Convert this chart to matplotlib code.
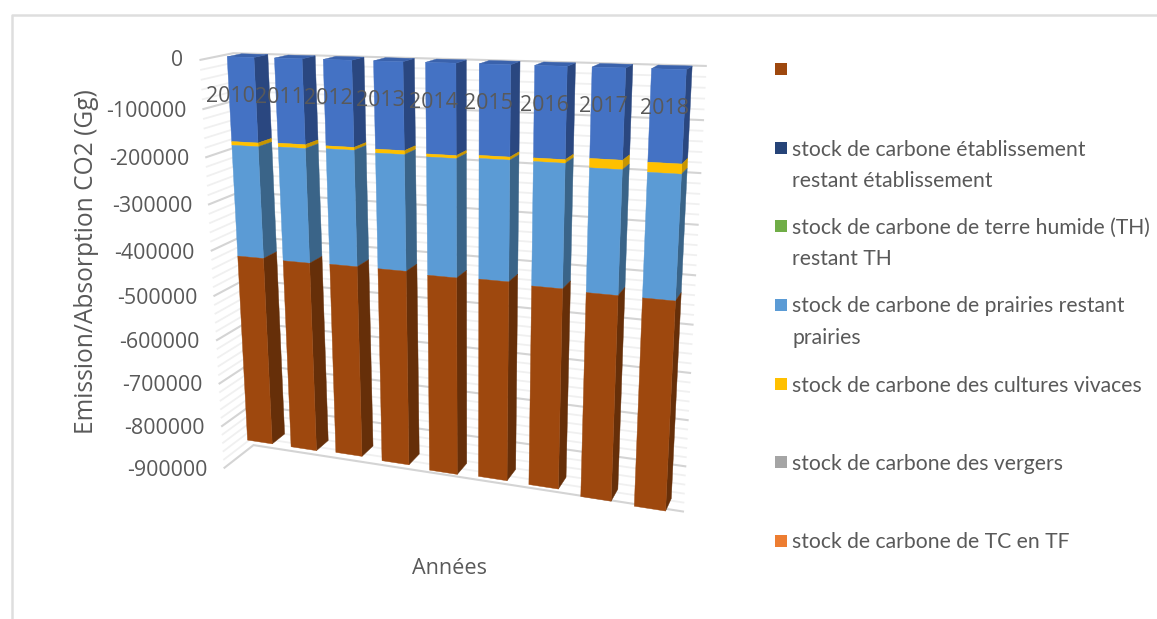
import numpy as np
import matplotlib
matplotlib.use("Agg")
import matplotlib.pyplot as plt
from matplotlib.patches import Polygon, Rectangle

years = [2010, 2011, 2012, 2013, 2014, 2015, 2016, 2017, 2018]
etablissement = [-177000, -175000, -175000, -176000, -180000, -177000, -176000, -171000, -172000]
terre_humide = [0, 0, 0, 0, 0, 0, 0, 0, 0]
cultures_vivaces = [-8000, -8000, -6000, -8000, -6000, -6000, -7000, -18000, -19000]
prairies = [-242000, -245000, -245000, -242000, -244000, -245000, -249000, -246000, -244000]
vergers = [0, 0, 0, 0, 0, 0, 0, 0, 0]
tc_en_tf = [0, 0, 0, 0, 0, 0, 0, 0, 0]
sans_nom = [-430000, -429000, -428000, -431000, -432000, -431000, -428000, -434000, -437000]

# top-to-bottom stacking: (values, front colour, side colour, top colour)
stack = [
    (etablissement, "#4472C4", "#2A4780", "#3A62AC"),
    (terre_humide, "#70AD47", "#466C2C", "#60953D"),
    (cultures_vivaces, "#FFC000", "#C79500", "#E0A900"),
    (prairies, "#5B9BD5", "#3A6488", "#4F86B8"),
    (vergers, "#A5A5A5", "#676767", "#8E8E8E"),
    (tc_en_tf, "#ED7D31", "#94501F", "#CC6B2A"),
    (sans_nom, "#9E480E", "#662F09", "#883E0C"),
]

legend_entries = [
    ("#9E480E", [""], 69),
    ("#264478", ["stock de carbone établissement", "restant établissement"], 148),
    ("#70AD47", ["stock de carbone de terre humide (TH)", "restant TH"], 226),
    ("#5B9BD5", ["stock de carbone de prairies restant", "prairies"], 305),
    ("#FFC000", ["stock de carbone des cultures vivaces"], 384),
    ("#A5A5A5", ["stock de carbone des vergers"], 462),
    ("#ED7D31", ["stock de carbone de TC en TF"], 541),
]

Y_MIN = -900000
BAR_GAP = 0.215      # share of a category slot left free on each side
Z_FRONT, Z_BACK = 0.5, 0.95
TEXT = "#595959"

# Perspective camera: world (category, value / |Y_MIN|, depth) to canvas pixels,
# solved by least squares from the box corners and the edges of the outer bars.
calib = [
    (0, 0, 1, 230, 54), (9, 0, 1, 708, 65), (0, -1, 1, 258, 445), (9, -1, 1, 685, 510),
    (0, 0, 0, 203, 58), (0, -1, 0, 226, 469),
    (0.215, 0, 0.5, 227, 57), (0.785, 0, 0.5, 254, 57), (0.785, 0, 0.95, 269, 55),
    (8.215, 0, 0.5, 651, 69), (8.785, 0, 0.5, 686, 69), (8.785, 0, 0.95, 691, 68),
    (0.215, -0.953, 0.5, 245, 441), (0.785, -0.953, 0.5, 270, 444), (0.785, -0.953, 0.95, 283, 433),
    (8.215, -0.969, 0.5, 633, 507), (8.785, -0.969, 0.5, 665, 511), (8.785, -0.969, 0.95, 671, 499),
]
A, b = [], []
for X, Y, Z, u, v in calib:
    A.append([X, Y, Z, 1, 0, 0, 0, 0, -u * X, -u * Y, -u * Z])
    A.append([0, 0, 0, 0, X, Y, Z, 1, -v * X, -v * Y, -v * Z])
    b += [u, v]
sol = np.linalg.lstsq(np.array(A, float), np.array(b, float), rcond=None)[0]
CAM = np.append(sol, 1.0).reshape(3, 4)


def project(cat, value, depth):
    """Map a category position, chart value and depth to canvas pixels."""
    h = CAM @ np.array([cat, value / abs(Y_MIN), depth, 1.0])
    return h[0] / h[2], h[1] / h[2]


fig = plt.figure(figsize=(11.57, 6.19), dpi=100, facecolor="white")
ax = fig.add_axes([0, 0, 1, 1])
ax.set_xlim(0, 1157)
ax.set_ylim(619, 0)
ax.axis("off")
renderer = fig.canvas.get_renderer()


def sized_text(x, y, s, width_px, **kw):
    """Place text and scale its font so the rendered run is width_px long."""
    t = ax.text(x, y, s, color=TEXT, family="Open Sans", zorder=30, fontsize=15, **kw)
    ext = t.get_window_extent(renderer)
    t.set_fontsize(15 * width_px / max(ext.width, ext.height))
    return t


# chart frame
ax.plot([12, 12, 1157], [619, 15, 15], color="#DEDEDE", lw=1.8, zorder=1)

# gridlines on the back and left walls
n_cat = len(years)
for val in range(0, Y_MIN - 1, -20000):
    major = val % 100000 == 0
    pts = [project(0, val, 0), project(0, val, 1), project(n_cat, val, 1)]
    ax.plot(*zip(*pts), color="#D4D4D4" if major else "#F0F0F0",
            lw=1.5 if major else 1.3, zorder=2, solid_joinstyle="miter")


def face(corners, color, z):
    ax.add_patch(Polygon(corners, closed=True, facecolor=color, edgecolor=color,
                         lw=0.3, zorder=z))


# stacked 3D bars
for i in range(n_cat):
    x0, x1 = i + BAR_GAP, i + 1 - BAR_GAP
    top = 0.0
    z = 5 + i
    for values, front, side, lid in stack:
        bottom = top + values[i]
        if values[i] != 0:
            face([project(x1, top, Z_FRONT), project(x1, top, Z_BACK),
                  project(x1, bottom, Z_BACK), project(x1, bottom, Z_FRONT)], side, z)
            face([project(x0, top, Z_FRONT), project(x1, top, Z_FRONT),
                  project(x1, bottom, Z_FRONT), project(x0, bottom, Z_FRONT)], front, z + 0.1)
            if top == 0.0:
                face([project(x0, top, Z_FRONT), project(x1, top, Z_FRONT),
                      project(x1, top, Z_BACK), project(x0, top, Z_BACK)], lid, z)
        top = bottom

# value axis labels, right-aligned along the left wall edge
for val in range(0, Y_MIN - 1, -100000):
    px, py = project(0, val, 0)
    if val:
        sized_text(px - 17, py + 2.5, str(val), 80, ha="right", va="center")
    else:
        ax.text(px - 17, py + 1, "0", ha="right", va="center", color=TEXT,
                family="Open Sans", zorder=30, fontsize=15.2)

# category labels sit below the zero line at the front of the box
for i, year in enumerate(years):
    px, py = project(i + 0.5, 0, 0.2)
    sized_text(px, py + 37, str(year), 49, ha="center", va="center")

sized_text(87, 262, "Emission/Absorption CO2 (Gg)", 345, rotation=90, ha="center", va="center")
sized_text(449, 568, "Années", 75, ha="center", va="center")

# legend
for color, lines, y in legend_entries:
    ax.add_patch(Rectangle((775, y - 6), 12, 12, facecolor=color, edgecolor="none", zorder=30))
    for n, line in enumerate(lines):
        ax.text(792, y + 1.5 + n * 31.5, line, ha="left", va="center", color=TEXT,
                fontsize=15.2, family="Lato", zorder=30)

fig.savefig("out.png", dpi=100)
